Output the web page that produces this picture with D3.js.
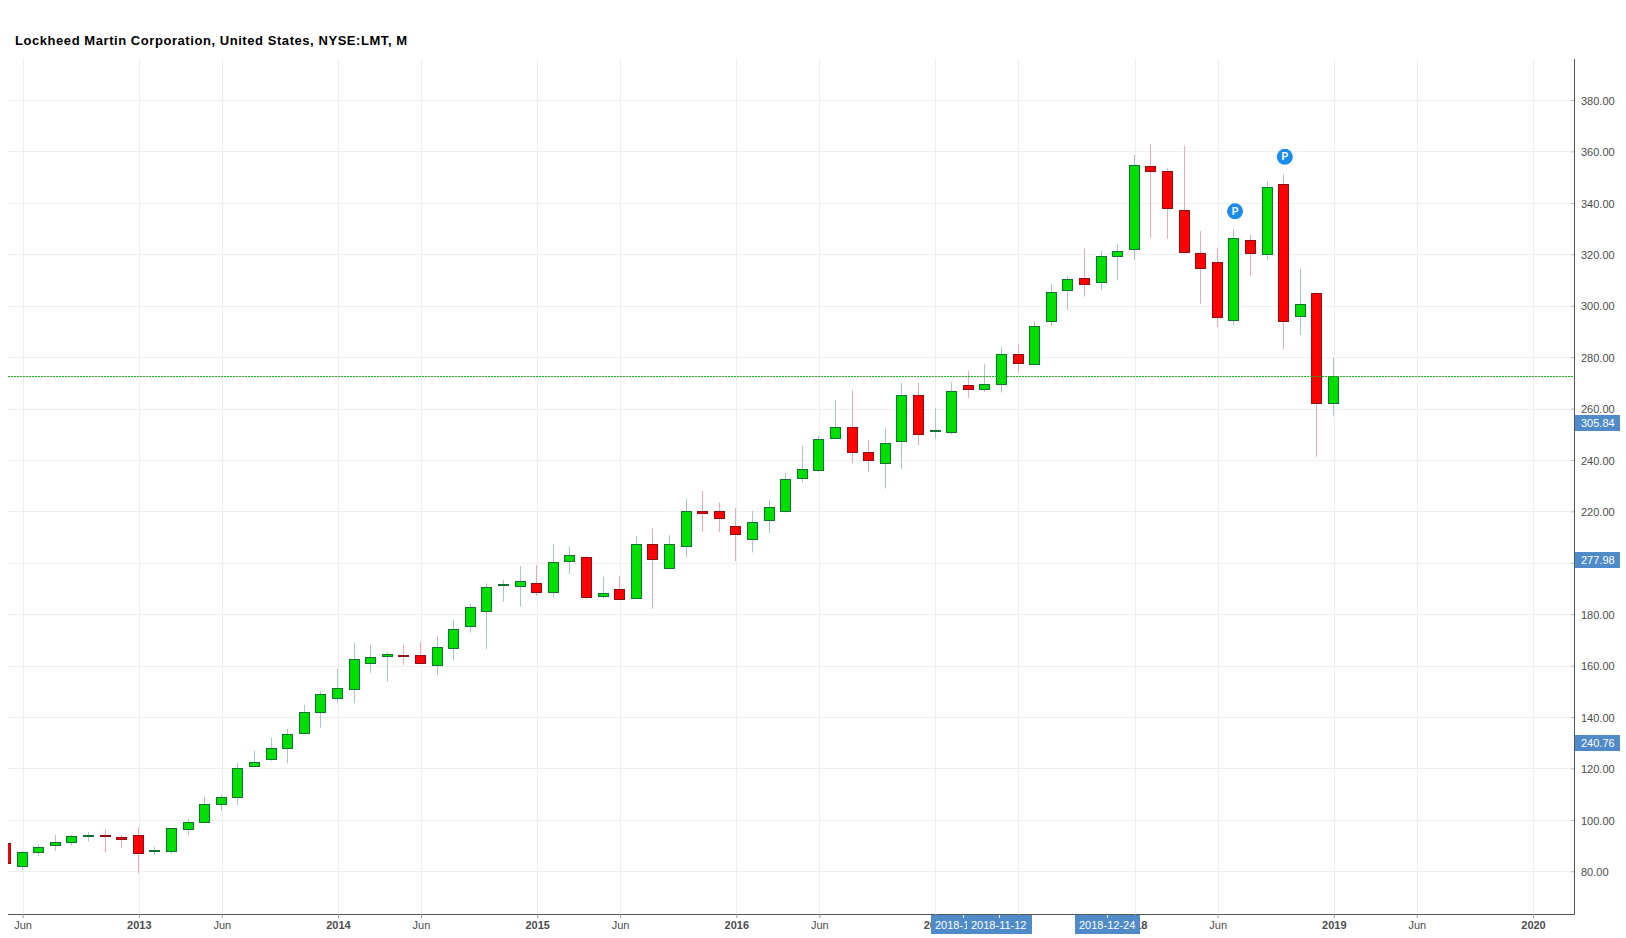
<!DOCTYPE html>
<html>
<head>
<meta charset="utf-8">
<title>LMT monthly</title>
<script src="https://cdn.jsdelivr.net/npm/d3@7"></script>
<style>
  html, body { margin: 0; padding: 0; background: #fff; }
  svg { display: block; font-family: "Liberation Sans", Arial, sans-serif; }
</style>
</head>
<body>
<figure id="chart" style="margin:0"></figure>
<script>
// monthly bars, first entry is May 2012, last is Jan 2019
const opens = [90.9,81.8,87.3,90.0,91.2,93.5,94.0,93.2,94.0,87.6,87.6,96.2,98.9,105.9,108.7,120.7,123.4,127.7,133.5,
  141.7,147.1,150.6,160.7,163.5,163.8,164.0,160.0,166.6,175.2,181.0,191.2,190.7,192.0,188.4,200.4,202.1,186.8,189.7,
  186.0,207.2,197.7,206.3,220.0,220.0,214.2,209.0,216.4,220.0,232.8,235.9,248.4,252.7,242.9,238.5,247.1,265.1,251.1,
  250.6,269.0,267.3,269.3,281.1,277.2,293.9,305.8,310.6,308.9,319.0,321.8,354.2,352.2,337.1,320.3,316.8,294.1,325.4,
  319.8,347.2,295.7,304.8,261.9];
const closes = [83.0,87.4,89.3,91.3,93.7,94.0,93.5,92.3,86.9,88.2,96.7,99.1,106.1,108.8,120.1,122.4,127.8,133.3,141.8,
  148.8,151.2,162.4,163.2,164.4,163.6,160.8,167.1,174.1,182.7,190.4,191.6,192.8,188.4,200.2,202.9,186.4,188.1,185.6,
  207.2,201.2,207.2,220.0,219.2,217.2,210.9,215.7,221.6,232.4,236.3,248.0,252.7,242.8,239.7,246.4,265.1,249.8,251.5,
  266.7,267.3,269.4,281.1,277.4,291.9,305.2,310.2,308.2,319.2,321.1,354.6,352.1,337.7,320.6,314.4,295.3,326.2,320.2,
  346.0,293.8,300.5,261.9,272.4];
const highs = [91.5,88.0,90.6,94.1,94.1,95.3,96.3,94.1,97.1,89.6,96.7,100.2,109.0,109.9,122.0,126.9,132.0,135.4,144.7,
  150.1,158.8,168.9,168.1,165.3,168.0,169.1,171.6,177.7,184.2,192.0,193.3,198.7,199.1,207.3,206.5,202.6,194.6,194.9,
  210.4,213.4,210.7,225.0,227.9,223.4,221.3,220.1,224.4,235.0,245.4,249.3,263.3,267.2,247.7,252.1,270.0,270.0,260.1,
  270.3,274.7,277.2,284.1,285.1,294.0,308.4,311.5,322.3,321.4,324.0,358.6,362.9,353.4,362.3,329.0,322.6,329.8,327.5,
  348.2,351.2,314.3,305.2,279.6];
const lows = [82.5,80.5,86.0,87.9,90.1,91.7,87.3,89.1,79.2,86.4,86.7,94.1,98.9,103.5,105.8,120.7,123.0,122.0,133.5,
  135.9,145.6,145.3,157.2,153.8,160.2,160.8,156.4,162.2,172.8,166.5,184.9,182.9,187.1,186.4,195.6,186.0,186.0,185.6,
  186.0,182.1,197.7,202.0,212.0,212.0,200.7,204.0,211.5,219.5,231.2,235.4,248.4,238.7,235.4,228.9,236.6,245.8,248.3,
  250.0,264.1,266.5,266.2,273.9,276.9,292.1,298.3,303.5,306.1,310.0,317.8,326.4,326.0,320.6,300.8,291.8,292.5,311.5,
  317.8,283.0,288.6,241.2,257.0];

// bottom axis ticks, positions counted in bars from May 2012
const tickPositions = [1,8,13,20,25,32,37,44,49,56,61,68,73,80,85,92];
const tickLabels = ["Jun","2013","Jun","2014","Jun","2015","Jun","2016","Jun","2017","Jun","2018","Jun","2019","Jun","2020"];
const priceTicks = [80,100,120,140,160,180,200,220,240,260,280,300,320,340,360,380];

// blue tags sitting on the axes
const priceTagLabels = ["305.84","277.98","240.76"];
const priceTagValues = [254.2,201.1,130.1];
const dateTagLabels = ["2018-1","2018-11-12","2018-12-24"];
const dateTagPositions = [57.65,59.8,66.36];

// "P" flags above two bars
const flagPositions = [74,77];
const flagValues = [336.7,357.9];

const lastClose = closes[closes.length - 1];

const width = 1626;
const height = 938;
const left = 8;
const right = 1574;
const top_ = 59;
const bottom = 914.3;

const svg = d3.select("figure#chart")
  .append("svg")
  .attr("width", width)
  .attr("height", height);

const x = d3.scaleLinear().domain([0, 92]).range([6, 1533]);
const y = d3.scaleLinear().domain([63.28, 395.95]).range([bottom, top_]);

svg.append("defs").append("clipPath").attr("id", "plot")
  .append("rect")
  .attr("x", left)
  .attr("y", top_)
  .attr("width", right - left)
  .attr("height", bottom - top_);

// The grid first, everything else goes on top
const grid = svg.append("g").attr("stroke", "#efefef").attr("stroke-width", 1);
grid.selectAll("line.h").data(priceTicks).enter().append("line")
  .attr("class", "h")
  .attr("x1", left)
  .attr("x2", right)
  .attr("y1", d => Math.round(y(d)) + 0.5)
  .attr("y2", d => Math.round(y(d)) + 0.5);
grid.selectAll("line.v").data(tickPositions).enter().append("line")
  .attr("class", "v")
  .attr("y1", top_)
  .attr("y2", bottom)
  .attr("x1", d => Math.round(x(d)) + 0.5)
  .attr("x2", d => Math.round(x(d)) + 0.5);

const barWidth = (x(1) - x(0)) * 0.6;
const snap = v => Math.floor(v) + 0.5;
// bars sit a touch left of the grid line of their month
const barX = i => snap(x(i) - 0.4);

const bars = svg.append("g").attr("clip-path", "url(#plot)")
  .selectAll("g")
  .data(opens.map((o, i) => i))
  .enter()
  .append("g");

bars.append("line")
  .attr("x1", i => barX(i))
  .attr("x2", i => barX(i))
  .attr("y1", i => y(highs[i]))
  .attr("y2", i => y(lows[i]))
  .attr("stroke", i => closes[i] >= opens[i] ? "#a8c6cc" : "#ecaab2")
  .attr("stroke-width", 1);

bars.append("rect")
  .attr("x", i => barX(i) - barWidth / 2)
  .attr("width", barWidth)
  .attr("y", i => snap(y(Math.max(opens[i], closes[i]))))
  .attr("height", i => Math.max(1, snap(y(Math.min(opens[i], closes[i]))) - snap(y(Math.max(opens[i], closes[i])))))
  .attr("fill", i => closes[i] >= opens[i] ? "#00df00" : "#ff0000")
  .attr("stroke", i => closes[i] >= opens[i] ? "#0f7431" : "#8e0d16")
  .attr("stroke-width", 1);

// last price line
svg.append("line")
  .attr("x1", left)
  .attr("x2", right)
  .attr("y1", snap(y(lastClose)))
  .attr("y2", snap(y(lastClose)))
  .attr("stroke", "#16b516")
  .attr("stroke-width", 1)
  .attr("stroke-dasharray", "2 1");

// P flags
const flags = svg.append("g").selectAll("g")
  .data(flagPositions.map((p, i) => ({ p: p, v: flagValues[i] })))
  .enter()
  .append("g")
  .attr("transform", d => "translate(" + (x(d.p) + 0.8) + "," + y(d.v) + ")");
flags.append("circle").attr("r", 8).attr("fill", "#1a8cee");
flags.append("text")
  .text("P")
  .attr("y", 3.6)
  .attr("text-anchor", "middle")
  .attr("fill", "#fff")
  .style("font-size", "10px")
  .style("font-weight", "bold");

// Axes
const xAxis = d3.axisBottom(x)
  .tickValues(tickPositions)
  .tickFormat((d, i) => tickLabels[i])
  .tickSizeInner(4)
  .tickSizeOuter(0)
  .tickPadding(3);
const xAxisG = svg.append("g")
  .attr("transform", "translate(0," + Math.round(bottom) + ")")
  .call(xAxis);
xAxisG.select(".domain").attr("stroke", "#555").attr("d", "M" + left + ",0.5H" + right);
xAxisG.selectAll("line").attr("stroke", "#999");
xAxisG.selectAll("text")
  .attr("fill", "#4d4d4d")
  .style("font-size", "11px")
  .style("font-family", "'Liberation Sans', Arial, sans-serif")
  .style("font-weight", (d, i) => /^\d/.test(tickLabels[i]) ? "bold" : "normal");

const yAxis = d3.axisRight(y)
  .tickValues(priceTicks)
  .tickFormat(d3.format(".2f"))
  .tickSizeInner(-3)
  .tickSizeOuter(0)
  .tickPadding(7);
const yAxisG = svg.append("g")
  .attr("transform", "translate(" + right + ",0)")
  .call(yAxis);
yAxisG.select(".domain").attr("stroke", "#555").attr("d", "M0.5," + top_ + "V" + (bottom + 0.5));
yAxisG.selectAll("line").attr("stroke", "#bbb");
yAxisG.selectAll("text")
  .attr("fill", "#4d4d4d")
  .attr("dy", "0.38em")
  .style("font-size", "11px")
  .style("font-family", "'Liberation Sans', Arial, sans-serif");

// Tags over the axes
const priceTags = svg.append("g").selectAll("g")
  .data(priceTagLabels.map((t, i) => ({ t: t, v: priceTagValues[i] })))
  .enter()
  .append("g")
  .attr("transform", d => "translate(" + (right + 1) + "," + Math.round(y(d.v)) + ")");
priceTags.append("rect")
  .attr("y", -8)
  .attr("width", 45)
  .attr("height", 16)
  .attr("fill", "#4f8ac9");
priceTags.append("text")
  .text(d => d.t)
  .attr("x", 6)
  .attr("y", 4)
  .attr("fill", "#fff")
  .style("font-size", "11px");

const dateTags = svg.append("g").selectAll("g")
  .data(dateTagLabels.map((t, i) => ({ t: t, p: dateTagPositions[i] })))
  .enter()
  .append("g")
  .attr("transform", d => "translate(" + Math.round(x(d.p)) + "," + (Math.round(bottom) + 1) + ")");
dateTags.append("rect")
  .attr("x", -32)
  .attr("width", 65)
  .attr("height", 19)
  .attr("fill", "#4f8ac9");
dateTags.append("line")
  .attr("x1", 0.5)
  .attr("x2", 0.5)
  .attr("y1", 0)
  .attr("y2", 3)
  .attr("stroke", "#fff");
dateTags.append("text")
  .text(d => d.t)
  .attr("x", -28)
  .attr("y", 14)
  .attr("fill", "#fff")
  .style("font-size", "11px");

svg.append("text")
  .text("Lockheed Martin Corporation, United States, NYSE:LMT, M")
  .attr("x", 15)
  .attr("y", 45)
  .attr("fill", "#000")
  .style("font-size", "13px")
  .style("font-weight", "bold")
  .style("letter-spacing", "0.56px");
</script>
</body>
</html>
